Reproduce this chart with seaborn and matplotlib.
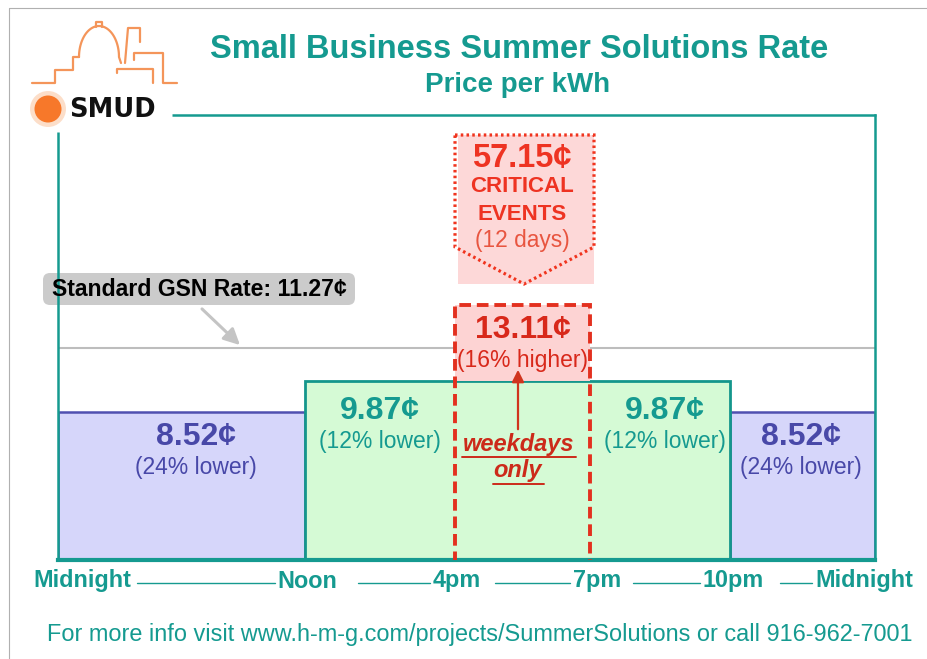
import numpy as np
import matplotlib
matplotlib.use("Agg")
import matplotlib.pyplot as plt
import seaborn as sns
from matplotlib.patches import Polygon, Rectangle, FancyBboxPatch, Circle

# rate periods (hours of day) and prices in cents per kWh
hour_marks = [0, 12, 16, 19, 22, 24]
time_labels = ["Midnight", "Noon", "4pm", "7pm", "10pm", "Midnight"]
off_peak_windows = [(0, 12), (22, 24)]
mid_peak_window = (12, 22)
peak_window = (16, 19)
off_peak_price = 8.52
mid_peak_price = 9.87
peak_price = 13.11
critical_price = 57.15
standard_price = 11.27
off_peak_note = "(24% lower)"
mid_peak_note = "(12% lower)"
peak_note = "(16% higher)"
critical_days = 12

sns.set_theme(style="white")
plt.rcParams["font.family"] = ["Liberation Sans", "DejaVu Sans"]

teal = "#159a90"
blue_txt = "#4848a8"
red = "#e3301f"

fig = plt.figure(figsize=(9.27, 6.59), dpi=100)

# main chart area (pixel box 58..875 x 115..560)
ax = fig.add_axes([58 / 927, 1 - 560 / 659, 817 / 927, 445 / 659])
seg_px = [0, 247, 397, 532, 672, 817]


def fwd(h):
    return np.interp(h, hour_marks, seg_px)


def inv(p):
    return np.interp(p, seg_px, hour_marks)


ax.set_xscale("function", functions=(fwd, inv))
ax.set_xlim(0, 24)
ax.set_ylim(2.17, 21.29)
ax.set_xticks([])
ax.set_yticks([])
ax.set_facecolor("none")
for s in ["top", "left"]:
    ax.spines[s].set_visible(False)
ax.spines["bottom"].set_color(teal)
ax.spines["bottom"].set_linewidth(3)
ax.spines["right"].set_color(teal)
ax.spines["right"].set_linewidth(1.8)

# standard rate line
sns.lineplot(x=[0, 24], y=[standard_price, standard_price], ax=ax,
             color="#bdbdbd", linewidth=1.5, zorder=1)

# off-peak bars
ax.bar([w[0] for w in off_peak_windows], [off_peak_price] * 2,
       width=[w[1] - w[0] for w in off_peak_windows], align="edge",
       color="#d6d6fa", edgecolor="#5050b0", linewidth=1.8, zorder=2)
# mid-peak bar
ax.bar(mid_peak_window[0], mid_peak_price,
       width=mid_peak_window[1] - mid_peak_window[0], align="edge",
       color="#d5fad5", edgecolor="#14968c", linewidth=2.0, zorder=2)
# peak part above mid-peak
ax.bar(peak_window[0], peak_price - mid_peak_price, bottom=mid_peak_price,
       width=peak_window[1] - peak_window[0], align="edge",
       color="#fdd3d3", edgecolor="none", zorder=3)
ax.bar(peak_window[0], peak_price, width=peak_window[1] - peak_window[0],
       align="edge", fill=False, edgecolor=red, linewidth=2.8,
       linestyle=(0, (3.0, 1.5)), zorder=6)


def label(x, top, big, small, color, dy=0):
    ax.annotate(big, (x, top), xytext=(0, -18 + dy), textcoords="offset points",
                ha="center", va="center", fontsize=23, fontweight="bold",
                color=color, zorder=7)
    ax.annotate(small, (x, top), xytext=(0, -40 + dy), textcoords="offset points",
                ha="center", va="center", fontsize=16.5, color=color, zorder=7)


label(6.7, off_peak_price, f"{off_peak_price:.2f}¢", off_peak_note, blue_txt)
label(22.98, off_peak_price, f"{off_peak_price:.2f}¢", off_peak_note, blue_txt)
label(14.0, mid_peak_price, f"{mid_peak_price:.2f}¢", mid_peak_note, teal, -4)
label(20.6, mid_peak_price, f"{mid_peak_price:.2f}¢", mid_peak_note, teal, -4)
label(17.5, peak_price, f"{peak_price:.2f}¢", peak_note, "#d8281a")

# overlay in pixel coordinates for the decorations
ov = fig.add_axes([0, 0, 1, 1], zorder=5)
ov.set_xlim(0, 927)
ov.set_ylim(659, 0)
ov.axis("off")
ov.patch.set_alpha(0)

# slide border and frame
ov.plot([9, 927], [8, 8], color="#b0b0b0", lw=0.8)
ov.plot([9, 9], [8, 659], color="#b0b0b0", lw=0.8)
ov.plot([172, 876], [115, 115], color=teal, lw=1.8, solid_capstyle="butt")
ov.plot([58, 58], [132, 560], color=teal, lw=1.8, solid_capstyle="butt")

# logo
orange = "#f4955a"
ov.plot([32, 55, 55, 73, 73, 79], [83, 83, 70, 70, 57, 57], color=orange, lw=1.6)
t = np.linspace(np.pi, 0, 60)
ov.plot(np.r_[99 + 20 * np.cos(t), 121], np.r_[57 - 31 * np.sin(t), 63],
        color=orange, lw=1.6)
ov.plot([96, 96, 102, 102], [27, 22, 22, 27], color=orange, lw=1.6)
ov.plot([125, 128, 140, 140], [63, 28, 28, 42], color=orange, lw=1.6)
ov.plot([134, 134, 163, 163, 177], [60, 53, 53, 83, 83], color=orange, lw=1.6)
ov.plot([117, 117, 153, 153], [73, 69, 69, 83], color=orange, lw=1.6)
ov.add_patch(Circle((48, 109), 18, color="#fbc9a6", alpha=0.6, lw=0))
ov.add_patch(Circle((48, 109), 13.5, color="#f7782a", lw=0))
ov.text(69, 110, "SMUD", ha="left", va="center", fontsize=18.5,
        fontweight="heavy", family="DejaVu Sans", color="#111111")

# titles
ov.text(519, 50, "Small Business Summer Solutions Rate", ha="center",
        va="center", fontsize=23.5, fontweight="bold", color=teal)
ov.text(518, 85, "Price per kWh", ha="center", va="center", fontsize=20,
        fontweight="bold", color=teal)

# critical events box
ov.add_patch(Rectangle((458, 135), 136, 149, color="#fdd8d8", lw=0))
ov.add_patch(Polygon([(455, 135), (594, 135), (594, 247), (524, 284), (455, 247)],
                     closed=True, fill=False, edgecolor="#f0341e", lw=2.3,
                     linestyle=(0, (0.8, 1.0))))
ov.text(522, 158, f"{critical_price:.2f}¢", ha="center", va="center",
        fontsize=23.5, fontweight="bold", color="#ee3322")
ov.text(522, 187, "CRITICAL", ha="center", va="center", fontsize=16,
        fontweight="bold", color="#ee3322")
ov.text(522, 214, "EVENTS", ha="center", va="center", fontsize=16,
        fontweight="bold", color="#ee3322")
ov.text(522, 241, f"({critical_days} days)", ha="center", va="center",
        fontsize=16.4, color="#e85540")

# standard rate callout
ov.add_patch(FancyBboxPatch((43, 273), 312, 32,
                            boxstyle="round,pad=0,rounding_size=7",
                            fc="#cbcbcb", ec="none"))
ov.text(199, 290, f"Standard GSN Rate: {standard_price:.2f}¢", ha="center",
        va="center", fontsize=16.6, fontweight="bold", color="black")
ov.annotate("", xy=(242, 347), xytext=(200, 307),
            arrowprops=dict(arrowstyle="-|>,head_length=0.8,head_width=0.4",
                            color="#c4c4c4", lw=2.2))

# weekdays only note
ov.annotate("", xy=(518, 367), xytext=(518, 432),
            arrowprops=dict(arrowstyle="-|>,head_length=0.6,head_width=0.3",
                            color="#d0341e", lw=1.6))
ov.text(519, 445, "weekdays", ha="center", va="center", fontsize=17,
        fontweight="bold", style="italic", color="#cc2a1a")
ov.text(518, 471, "only", ha="center", va="center", fontsize=17,
        fontweight="bold", style="italic", color="#cc2a1a")
ov.plot([462, 576], [457, 457], color="#cc2a1a", lw=1.4)
ov.plot([493, 544], [484, 484], color="#cc2a1a", lw=1.4)

# time axis labels
label_left = [33, 277, 433, 573, 703, 815]
for txt, lx in zip(time_labels, label_left):
    ov.text(lx, 581, txt, ha="left", va="center", fontsize=16.8,
            fontweight="bold", color=teal)
for x0, x1 in [(137, 275), (358, 430), (495, 570), (633, 700), (780, 812)]:
    ov.plot([x0, x1], [583, 583], color=teal, lw=1.0)

ov.text(480, 634, "For more info visit www.h-m-g.com/projects/SummerSolutions or call 916-962-7001",
        ha="center", va="center", fontsize=16.9, color=teal)

fig.savefig("out.png", dpi=100)
